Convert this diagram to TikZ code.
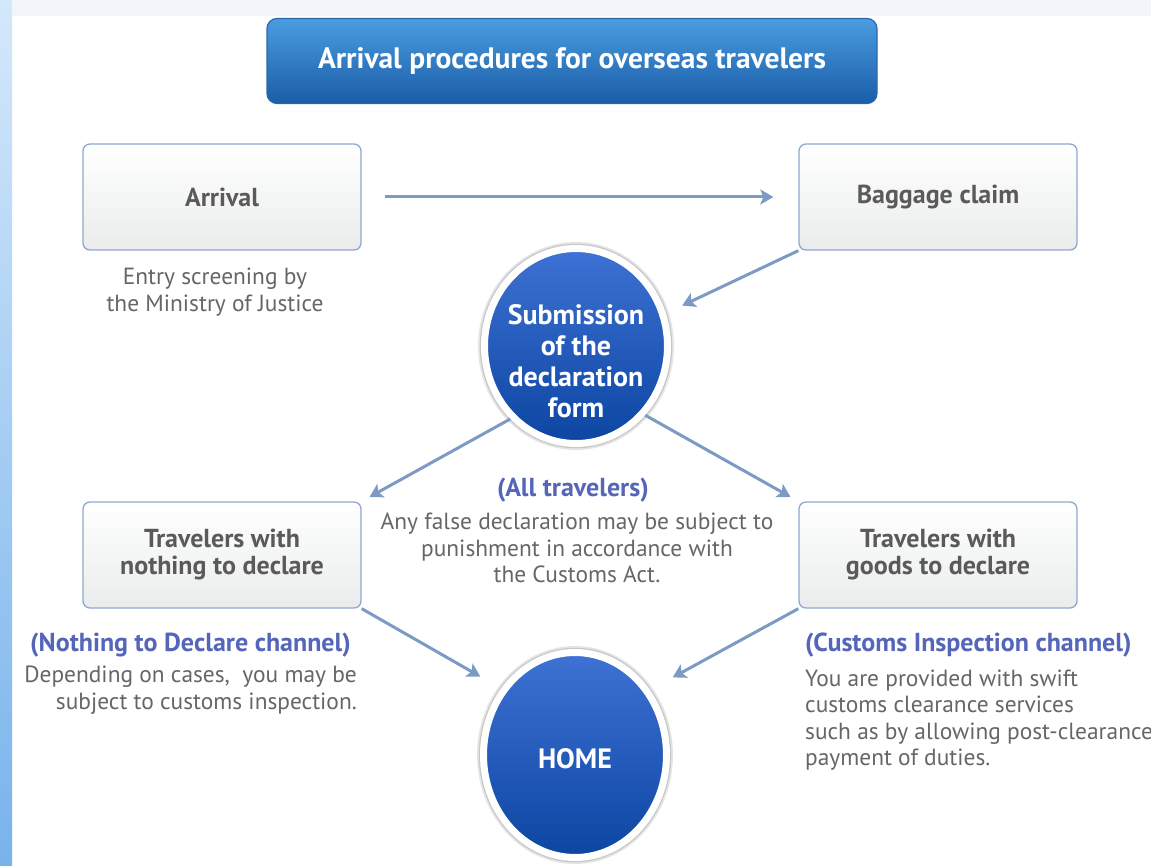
\documentclass[tikz,border=0pt]{standalone}
\usepackage{fontspec}
\setmainfont{PT Sans}
\usetikzlibrary{arrows.meta,shapes.geometric,calc}
\definecolor{topstrip}{HTML}{F2F6FB}
\definecolor{skytop}{HTML}{D4E8FB}
\definecolor{skybot}{HTML}{78B3EC}
\definecolor{titletop}{HTML}{4A9CE0}
\definecolor{titlebot}{HTML}{1A5DA8}
\definecolor{titleline}{HTML}{2A69A8}
\definecolor{boxline}{HTML}{8DA8D0}
\definecolor{boxbot}{HTML}{EAECEC}
\definecolor{labelgray}{HTML}{5A5A5A}
\definecolor{descgray}{HTML}{666666}
\definecolor{bluelab}{HTML}{5465BA}
\definecolor{arrowcol}{HTML}{7D9AC4}
\definecolor{circtop}{HTML}{3E72D4}
\definecolor{circbot}{HTML}{0C45A2}
\begin{document}
\begin{tikzpicture}[x=1pt,y=-1pt,
  title/.style={rounded corners=10pt, draw=titleline, line width=1.2pt,
    top color=titletop, bottom color=titlebot, minimum width=610pt, minimum height=85pt,
    text=white, font=\fontsize{29.5}{32}\selectfont\bfseries},
  stepbox/.style={draw=boxline, line width=1.3pt, rounded corners=7pt,
    top color=white, bottom color=boxbot, minimum width=278pt, minimum height=106pt,
    text=labelgray, font=\fontsize{26}{27}\selectfont\bfseries, align=center},
  ring/.style={ellipse, draw=white, line width=7pt, top color=circtop, bottom color=circbot,
    preaction={draw=black!10, line width=13pt},
    preaction={draw=black!22, line width=9.5pt}},
  ringtext/.style={text=white, font=\fontsize{28}{31}\selectfont\bfseries, align=center},
  desc/.style={text=descgray, font=\fontsize{23.4}{26.5}\selectfont, inner sep=0pt},
  bluel/.style={text=bluelab, font=\fontsize{26}{28}\selectfont\bfseries, inner sep=0pt},
  conn/.style={draw=arrowcol, line width=3pt, -{Stealth[length=13pt,width=15pt,inset=3pt]}}
]
\useasboundingbox (0,0) rectangle (1151,866);
% background
\fill[white] (0,0) rectangle (1151,866);
\fill[topstrip] (0,0) rectangle (1151,16);
\shade[top color=skytop, bottom color=skybot] (0,0) rectangle (12,866);

% title
\node[title] (ttl) at (572,61) {Arrival procedures for overseas travelers};

% boxes
\node[stepbox] (arr) at (222,197) {\raisebox{-4pt}{Arrival}};
\node[stepbox] (bag) at (938,197) {\raisebox{-4pt}{Baggage claim}};
\node[stepbox] (noth) at (222,555) {Travelers with\\nothing to declare};
\node[stepbox] (goods) at (938,555) {Travelers with\\goods to declare};

% circles
\node[ring, minimum width=183pt, minimum height=195pt,
  label={[ringtext, yshift=-15pt]center:{Submission\\of the\\declaration\\form}}] (sub) at (576,346) {};
\node[ring, minimum width=183pt, minimum height=205pt,
  label={[ringtext, yshift=-4pt]center:{HOME}}] (home) at (575,755) {};

% texts
\node[desc, align=center] (entry) at (215,292) {Entry screening by\\the Ministry of Justice};
\node[bluel] (allt) at (573,490) {(All travelers)};
\node[desc, align=center] (false) at (577,548) {Any false declaration may be subject to\\punishment in accordance with\\the Customs Act.};
\node[bluel, anchor=east] (ndc) at (351,645) {(Nothing to Declare channel)};
\node[desc, align=right, anchor=east] (ndcd) at (357,690) {Depending on cases,\ \ you may be\\subject to customs inspection.};
\node[bluel, anchor=west] (cic) at (805,645) {(Customs Inspection channel)};
\node[desc, align=left, anchor=west] (cicd) at (805,720) {You are provided with swift\\customs clearance services\\such as by allowing post-clearance\\payment of duties.};

% connectors
\draw[conn, shorten <=23pt, shorten >=25pt] (arr.east) -- (bag.west);
\draw[conn, shorten >=18pt] (bag.south west) -- (sub.20);
\draw[conn, shorten >=9pt] (sub.228) -- (noth.north east);
\draw[conn, shorten >=9pt] (sub.315) -- (goods.north west);
\draw[conn, shorten >=24pt] (noth.south east) -- (home.138);
\draw[conn, shorten >=26pt] (goods.south west) -- (home.41);
\end{tikzpicture}
\end{document}
